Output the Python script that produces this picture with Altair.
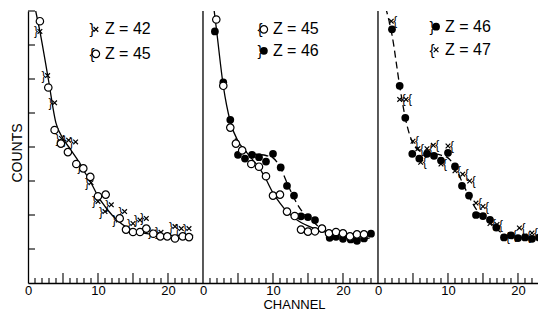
import altair as alt
import pandas as pd

# ---------------- data ----------------
# Panel 1: Z = 42 (x with brackets), Z = 45 (open circles), solid fit
p1_z45_x = [1.7, 2.9, 3.8, 4.7, 5.7, 6.9, 7.9, 8.9, 10.0, 11.1, 13.1, 14.0, 15.0, 16.0, 16.9, 17.9, 18.9, 19.9, 21.0, 22.1, 23.0]
p1_z45_y = [7.7, 5.75, 4.5, 4.1, 3.85, 3.5, 3.37, 3.12, 2.55, 2.6, 1.9, 1.57, 1.5, 1.5, 1.6, 1.45, 1.37, 1.37, 1.31, 1.37, 1.35]
p1_z42_x = [1.7, 2.8, 3.8, 4.8, 5.8, 6.8, 7.9, 9.0, 10.0, 11.0, 11.9, 12.9, 13.8, 15.0, 16.0, 16.9, 18.0, 19.0, 21.0, 21.9, 23.0]
p1_z42_y = [7.4, 6.1, 5.3, 4.25, 4.2, 4.15, 3.4, 2.95, 2.4, 2.1, 2.3, 1.85, 2.1, 1.75, 1.85, 1.9, 1.5, 1.49, 1.66, 1.6, 1.6]
p1_fit_x = [1.1, 1.7, 2.9, 4.0, 5, 6, 7, 8, 9, 10, 11, 12, 13, 14, 15, 16, 17, 18, 19, 20, 21, 22, 23, 23.6]
p1_fit_y = [8.0, 7.4, 6.0, 4.7, 4.25, 3.95, 3.65, 3.3, 2.95, 2.55, 2.25, 2.0, 1.8, 1.65, 1.55, 1.5, 1.45, 1.42, 1.4, 1.4, 1.4, 1.4, 1.4, 1.4]

# Panel 2: Z = 45 (open), Z = 46 (filled), solid + dashed fits
p2_z45_x = [1.9, 2.9, 3.9, 4.7, 5.6, 6.9, 8.0, 9.0, 10.0, 11.0, 12.0, 13.1, 14.0, 15.0, 16.0, 17.0, 18.0, 19.0, 20.0, 21.0, 22.0, 23.0]
p2_z45_y = [7.75, 5.8, 4.57, 4.1, 3.9, 3.5, 3.42, 3.14, 2.57, 2.6, 2.1, 1.97, 1.57, 1.51, 1.52, 1.6, 1.46, 1.5, 1.46, 1.37, 1.43, 1.43]
p2_z46_x = [1.7, 2.9, 3.9, 5.0, 6.0, 7.0, 8.0, 9.0, 10.0, 11.1, 12.0, 13.0, 14.0, 15.0, 16.0, 17.0, 18.1, 19.0, 20.0, 21.1, 22.0, 23.0, 24.0]
p2_z46_y = [7.4, 5.9, 4.8, 3.77, 3.66, 3.77, 3.7, 3.57, 3.8, 3.4, 2.86, 2.57, 1.96, 1.94, 1.85, 1.6, 1.33, 1.36, 1.3, 1.28, 1.24, 1.31, 1.45]
p2_solid_x = [1.6, 1.9, 2.9, 3.9, 5.0, 6, 7, 8, 9, 10, 11, 12, 13, 14, 15, 16, 17, 18, 19, 20, 21, 22, 23, 24.2]
p2_solid_y = [8.0, 7.5, 5.8, 4.75, 4.17, 3.9, 3.65, 3.4, 3.05, 2.65, 2.35, 2.1, 1.92, 1.78, 1.68, 1.6, 1.54, 1.5, 1.46, 1.43, 1.41, 1.4, 1.4, 1.4]
p2_dash_x = [4.6, 6, 7, 8, 9, 10, 11, 12, 13, 14, 15, 16, 17, 18, 19, 20, 21, 22, 23, 24.2]
p2_dash_y = [4.25, 3.88, 3.8, 3.78, 3.75, 3.68, 3.42, 2.95, 2.5, 2.15, 1.92, 1.75, 1.57, 1.43, 1.37, 1.34, 1.32, 1.31, 1.31, 1.33]

# Panel 3: Z = 46 (filled), Z = 47 (x with brackets), dashed fit
p3_z46_x = [2.0, 3.1, 3.9, 4.9, 5.9, 7.0, 8.0, 9.0, 10.0, 11.0, 12.0, 13.0, 14.0, 15.0, 16.0, 16.9, 18.0, 19.0, 20.0, 21.0, 22.0, 23.0]
p3_z46_y = [7.46, 5.8, 4.86, 3.8, 3.66, 3.8, 3.74, 3.6, 3.83, 3.43, 2.86, 2.57, 2.0, 1.97, 1.86, 1.63, 1.34, 1.4, 1.32, 1.34, 1.3, 1.34]
p3_z47_x = [1.9, 3.1, 4.0, 5.0, 5.7, 6.1, 7.0, 7.9, 9.0, 10.0, 11.0, 12.1, 13.1, 14.0, 15.0, 16.0, 17.0, 18.0, 19.0, 20.2, 21.0, 22.0, 23.3]
p3_z47_y = [7.7, 5.4, 5.4, 4.17, 3.95, 3.55, 3.95, 4.05, 3.5, 4.03, 3.3, 3.2, 3.0, 2.35, 2.25, 1.75, 1.72, 1.35, 1.42, 1.62, 1.38, 1.47, 1.74]
p3_dash_x = [1.1, 2.0, 3.1, 3.9, 5.0, 6, 7, 8, 9, 10, 11, 12, 13, 14, 15, 16, 17, 18, 19, 20, 21, 22, 23, 23.6]
p3_dash_y = [8.1, 7.3, 5.8, 4.86, 4.1, 3.88, 3.82, 3.8, 3.76, 3.68, 3.42, 2.98, 2.55, 2.18, 1.95, 1.78, 1.58, 1.43, 1.37, 1.34, 1.33, 1.32, 1.32, 1.32]

# Legends: marker position (channel, counts) and labels per panel
leg_panel = [0, 0, 1, 1, 2, 2]
leg_x = [9.7, 9.7, 8.7, 8.7, 8.3, 8.3]
leg_y = [7.46, 6.74, 7.46, 6.83, 7.54, 6.86]
leg_labels = ["Z = 42", "Z = 45", "Z = 45", "Z = 46", "Z = 46", "Z = 47"]
leg_kind = ["x", "open", "open", "filled", "filled", "x"]
leg_brace = ["}", "{", "{", "}", "}", "{"]

PANEL_SPAN = 25            # channels per panel
XMAX = 2 * PANEL_SPAN + 22.86
y_ticks = [1, 2, 3, 4, 5, 6, 7, 8]
x_label_values = [0, 10, 20]

FONT = "Liberation Sans"
W = 510
H = 272
XMARK = "M-1,-1L1,1M-1,1L1,-1"


def df(xs, ys, panel):
    return pd.DataFrame({"xp": [v + panel * PANEL_SPAN for v in xs], "c": ys})


X = alt.X("xp:Q", scale=alt.Scale(domain=[0, XMAX], nice=False, zero=False),
          axis=alt.Axis(values=[v + p * PANEL_SPAN for p in range(3) for v in x_label_values],
                        labelExpr=f"format(datum.value % {PANEL_SPAN}, 'd')", labelOverlap=False,
                        labelFlush=False, ticks=False, grid=False, domain=True, domainColor="black",
                        domainWidth=1.3, labelFontSize=13, labelPadding=1, labelColor="black",
                        labelFont=FONT, title="CHANNEL", titleFontSize=13, titleFontWeight="normal",
                        titleFont=FONT, titleColor="black", titleX=266, titleY=21,
                        titleBaseline="middle", titleAlign="center"))
Y = alt.Y("c:Q", scale=alt.Scale(domain=[0, 8], nice=False, zero=False),
          axis=alt.Axis(labels=False, ticks=False, grid=False, domain=True, domainColor="black",
                        domainWidth=1.3, title="COUNTS", titleFontSize=14, titleFontWeight="normal",
                        titleFont=FONT, titleColor="black", titleX=-11, titleY=H * 0.52, titleAngle=270,
                        titleBaseline="middle", titleAlign="center"))

layers = []

# y ticks (panel 1 only, inward)
layers.append(alt.Chart(pd.DataFrame({"c": y_ticks})).mark_rule(color="black", strokeWidth=1.1).encode(
    y=Y, x=alt.value(0), x2=alt.value(7)))

# panel separators
layers.append(alt.Chart(pd.DataFrame({"xp": [PANEL_SPAN, 2 * PANEL_SPAN]})).mark_rule(
    color="black", strokeWidth=1.3).encode(x=X, y=alt.value(0), y2=alt.value(H)))

# x ticks (inward), minor every channel, major every 5
tick_rows = []
for p, last in [(0, 24), (1, 24), (2, 22)]:
    for v in range(1, last + 1):
        tick_rows.append({"xp": v + p * PANEL_SPAN, "major": v % 5 == 0})
ticks = pd.DataFrame(tick_rows)
layers.append(alt.Chart(ticks[~ticks["major"]]).mark_rule(color="black", strokeWidth=1.1).encode(
    x=X, y=alt.value(H), y2=alt.value(H - 5)))
layers.append(alt.Chart(ticks[ticks["major"]]).mark_rule(color="black", strokeWidth=1.1).encode(
    x=X, y=alt.value(H), y2=alt.value(H - 10)))


def line(xs, ys, panel, dash=False):
    kw = dict(color="black", strokeWidth=1.3, clip=True, interpolate="monotone")
    if dash:
        kw["strokeDash"] = [7, 4]
    return alt.Chart(df(xs, ys, panel)).mark_line(**kw).encode(x=X, y=Y)


def open_pts(d):
    return alt.Chart(d).mark_point(shape="circle", filled=True, color="white", fill="white",
                                   stroke="black", strokeWidth=1.2, size=55, opacity=1,
                                   clip=True).encode(x=X, y=Y)


def filled_pts(d):
    return alt.Chart(d).mark_circle(color="black", fill="black", size=60, opacity=1, clip=True).encode(x=X, y=Y)


def xmark_pts(d):
    return alt.Chart(d).mark_point(shape=XMARK, filled=False, color="black", stroke="black",
                                   strokeWidth=1.2, size=22, opacity=1, clip=True).encode(x=X, y=Y)


def brace(d, glyph, size, dx):
    return alt.Chart(d).transform_filter(f"datum.xp <= {XMAX - 0.6}").mark_text(
        text=glyph, fontSize=size, font=FONT, color="black", fill="black",
        dx=dx, baseline="middle", align="center", clip=True).encode(x=X, y=Y)


# fit curves
layers.append(line(p1_fit_x, p1_fit_y, 0))
layers.append(line(p2_solid_x, p2_solid_y, 1))
layers.append(line(p2_dash_x, p2_dash_y, 1, dash=True))
layers.append(line(p3_dash_x, p3_dash_y, 2, dash=True))

# panel 1 points
d = df(p1_z42_x, p1_z42_y, 0)
layers += [brace(d, "}", 12, -4), xmark_pts(d)]
layers.append(open_pts(df(p1_z45_x, p1_z45_y, 0)))
# panel 2 points
layers.append(filled_pts(df(p2_z46_x, p2_z46_y, 1)))
layers.append(open_pts(df(p2_z45_x, p2_z45_y, 1)))
# panel 3 points
d = df(p3_z47_x, p3_z47_y, 2)
layers += [brace(d, "{", 12, 4), xmark_pts(d)]
layers.append(filled_pts(df(p3_z46_x, p3_z46_y, 2)))

# legends
for p, lx, ly, lab, kind, br in zip(leg_panel, leg_x, leg_y, leg_labels, leg_kind, leg_brace):
    d = df([lx], [ly], p).assign(label=lab)
    layers.append(brace(d, br, 15, -4))
    if kind == "open":
        layers.append(open_pts(d))
    elif kind == "filled":
        layers.append(filled_pts(d))
    else:
        layers.append(xmark_pts(d))
    layers.append(alt.Chart(d).mark_text(align="left", baseline="middle", fontSize=16, font=FONT,
                                         color="black", fill="black", dx=9).encode(x=X, y=Y, text="label:N"))

chart = alt.layer(*layers).properties(
    width=W, height=H, background="white",
    padding={"left": 2, "top": 2, "right": 0, "bottom": 0},
).configure_view(stroke=None)

chart.save("out.html", embed_options={"renderer": "svg", "actions": False})
